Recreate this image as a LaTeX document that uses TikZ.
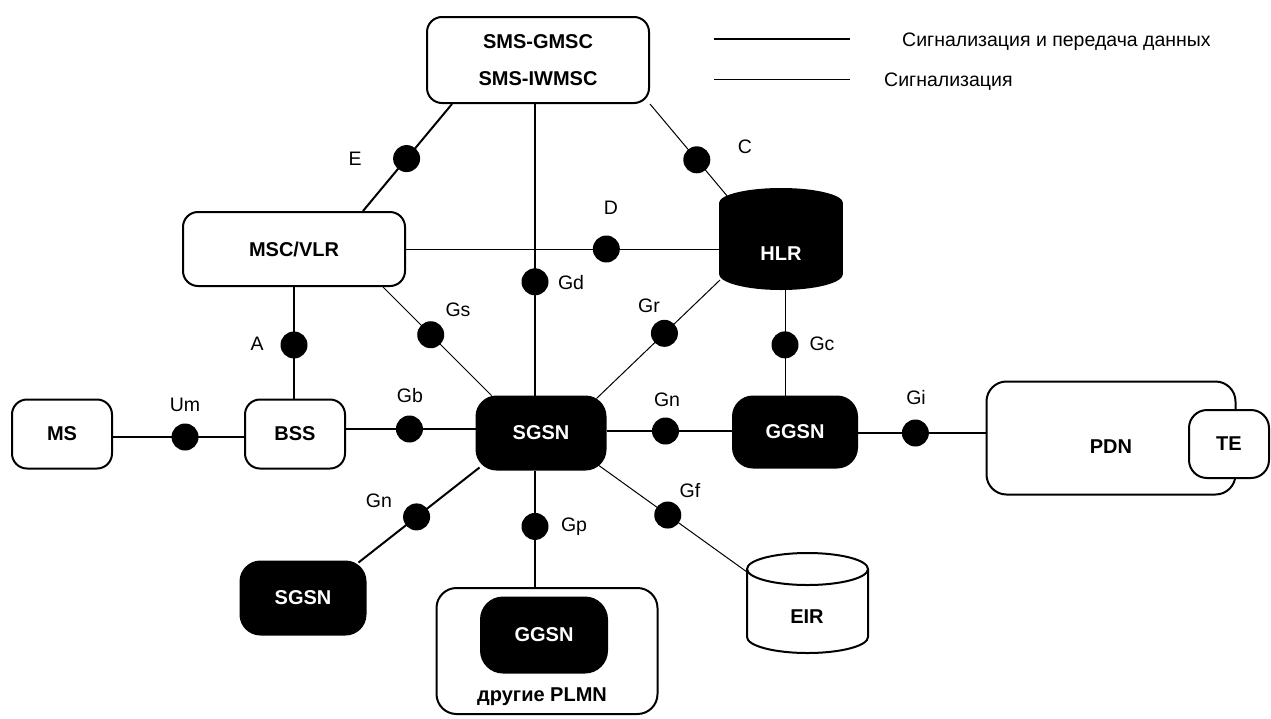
\documentclass[tikz,border=0pt]{standalone}
\usepackage{fontspec}
\setmainfont{Liberation Sans}
\usetikzlibrary{calc}
\begin{document}
\begin{tikzpicture}[x=1pt,y=-1pt,
  boxtext/.style={inner sep=0,font=\bfseries\fontsize{20}{24}\selectfont},
  box/.style={draw,line width=2,rounded corners=15,fill=white,inner sep=0,align=center,font=\bfseries\fontsize{20}{24}\selectfont},
  darkbox/.style={box,fill=black,text=white,rounded corners=20},
  ghost/.style={inner sep=0,outer sep=0},
  dot/.style={circle,fill=black,minimum size=27,inner sep=0},
  lbl/.style={font=\fontsize{19.5}{23}\selectfont,inner sep=0},
  thickline/.style={line width=2},
  thinline/.style={line width=1}]
\useasboundingbox (0,0) rectangle (1271,718);

% ---- boxes ----
\node[box,minimum width=222,minimum height=86] (sms) at (538,60) {SMS-GMSC\\[13pt]SMS-IWMSC};
\node[box,minimum width=222,minimum height=74] (msc) at (294,249) {MSC/VLR};
\node[box,minimum width=100,minimum height=69] (ms) at (62,434) {MS};
\node[box,minimum width=100,minimum height=69] (bss) at (295,434) {BSS};
\node[darkbox,minimum width=129,minimum height=73] (sgsn) at (541,433) {SGSN};
\node[darkbox,minimum width=124,minimum height=71] (ggsn) at (795,432) {GGSN};
\node[box,minimum width=249,minimum height=113,rounded corners=20] (pdn) at (1111,438) {};
\node[boxtext] (pdnt) at (1111,447) {PDN};
\node[box,minimum width=80,minimum height=68,rounded corners=18] (te) at (1229,444) {TE};
\node[darkbox,minimum width=125,minimum height=73] (sgsn2) at (303,598) {SGSN};
\node[box,minimum width=221,minimum height=126,rounded corners=20] (plmn) at (547,651) {};
\node[darkbox,minimum width=126,minimum height=75,rounded corners=22] (ggsn2) at (544,635) {GGSN};
\node[boxtext] (plmnt) at (542,697) {другие PLMN};

% ---- HLR (filled cylinder) ----
\fill (719,203) rectangle (843,274);
\fill (781,203) ellipse [x radius=62,y radius=15];
\fill (781,274) ellipse [x radius=62,y radius=16];
\node[ghost,minimum width=124,minimum height=102] (hlr) at (781,239) {};
\node[boxtext,text=white] (hlrt) at (781,254) {HLR};

% ---- EIR (open cylinder) ----
\draw[line width=2,fill=white] (747,569) -- (747,637) arc [start angle=180,end angle=0,x radius=60.5,y radius=16] -- (868,569);
\draw[line width=2] (807.5,569) ellipse [x radius=60.5,y radius=16];
\node[ghost,minimum width=121,minimum height=100] (eir) at (807.5,603) {};
\node[boxtext] (eirt) at (807,617) {EIR};

% ---- connectors ----
\draw[thickline] (452,0 |- sms.south) -- node[dot,pos=0.51] (dE) {} (363,0 |- msc.north);
\draw[thinline] (sms.south east) -- node[dot,pos=0.6] (dC) {} ($(hlr.north west)+(9,9)$);
\draw[thinline] (msc.east) -- node[dot,pos=0.64] (dD) {} (msc.east -| hlr.west);
\draw[thickline] (535,0 |- sms.south) -- node[dot,pos=0.61] (dGd) {} (535,0 |- sgsn.north);
\draw[thickline] (294,0 |- msc.south) -- node[dot,pos=0.52] (dA) {} (294,0 |- bss.north);
\draw[thinline] ($(msc.south east)+(-23,0)$) -- node[dot,pos=0.44] (dGs) {} ($(sgsn.north west)+(16,0)$);
\draw[thinline] ($(hlr.south west)+(1,-10)$) -- node[dot,pos=0.45] (dGr) {} ($(sgsn.north east)+(-10,3)$);
\draw[thinline] (785,0 |- hlr.south) -- node[dot,pos=0.52] (dGc) {} (785,0 |- ggsn.north);
\draw[thickline] (ms.east |- 0,437) -- node[dot,pos=0.55] (dUm) {} (bss.west |- 0,437);
\draw[thickline] (bss.east |- 0,429) -- node[dot,pos=0.49] (dGb) {} (sgsn.west |- 0,429);
\draw[thickline] (sgsn.east |- 0,431) -- node[dot,pos=0.47] (dGn) {} (ggsn.west |- 0,431);
\draw[thickline] (ggsn.east |- 0,433) -- node[dot,pos=0.45] (dGi) {} (pdn.west |- 0,433);
\draw[thickline] ($(sgsn.south west)+(4,-3)$) -- node[dot,pos=0.52] (dGn2) {} ($(sgsn2.north east)+(-8,2)$);
\draw[thickline] (535,0 |- sgsn.south) -- node[dot,pos=0.48] (dGp) {} (535,0 |- plmn.north);
\draw[thinline] ($(sgsn.south east)+(-9,-6)$) -- node[dot,pos=0.47] (dGf) {} ($(eir.north west)+(0,19)$);

% ---- interface labels ----
\node[lbl] (lE) at (355,159) {E};
\node[lbl] (lC) at (745,147) {C};
\node[lbl] (lD) at (611,208) {D};
\node[lbl] (lA) at (257,344) {A};
\node[lbl] (lGs) at (458,310) {Gs};
\node[lbl] (lGd) at (571,283) {Gd};
\node[lbl] (lGr) at (649,306) {Gr};
\node[lbl] (lGc) at (822,344) {Gc};
\node[lbl] (lUm) at (185,405) {Um};
\node[lbl] (lGb) at (410,396) {Gb};
\node[lbl] (lGn) at (667,400) {Gn};
\node[lbl] (lGi) at (916,398) {Gi};
\node[lbl] (lGn2) at (379,501) {Gn};
\node[lbl] (lGp) at (574,527) {Gp};
\node[lbl] (lGf) at (690,491) {Gf};

% ---- legend ----
\coordinate (l1a) at (714,39);
\coordinate (l1b) at (850,39);
\coordinate (l2a) at (714,79);
\coordinate (l2b) at (850,79);
\draw[line width=2.2] (l1a) -- (l1b);
\draw[thinline] (l2a) -- (l2b);
\node[lbl,anchor=west] (t1) at (902,42) {Сигнализация и передача данных};
\node[lbl,anchor=west] (t2) at (884,82) {Сигнализация};
\end{tikzpicture}
\end{document}
